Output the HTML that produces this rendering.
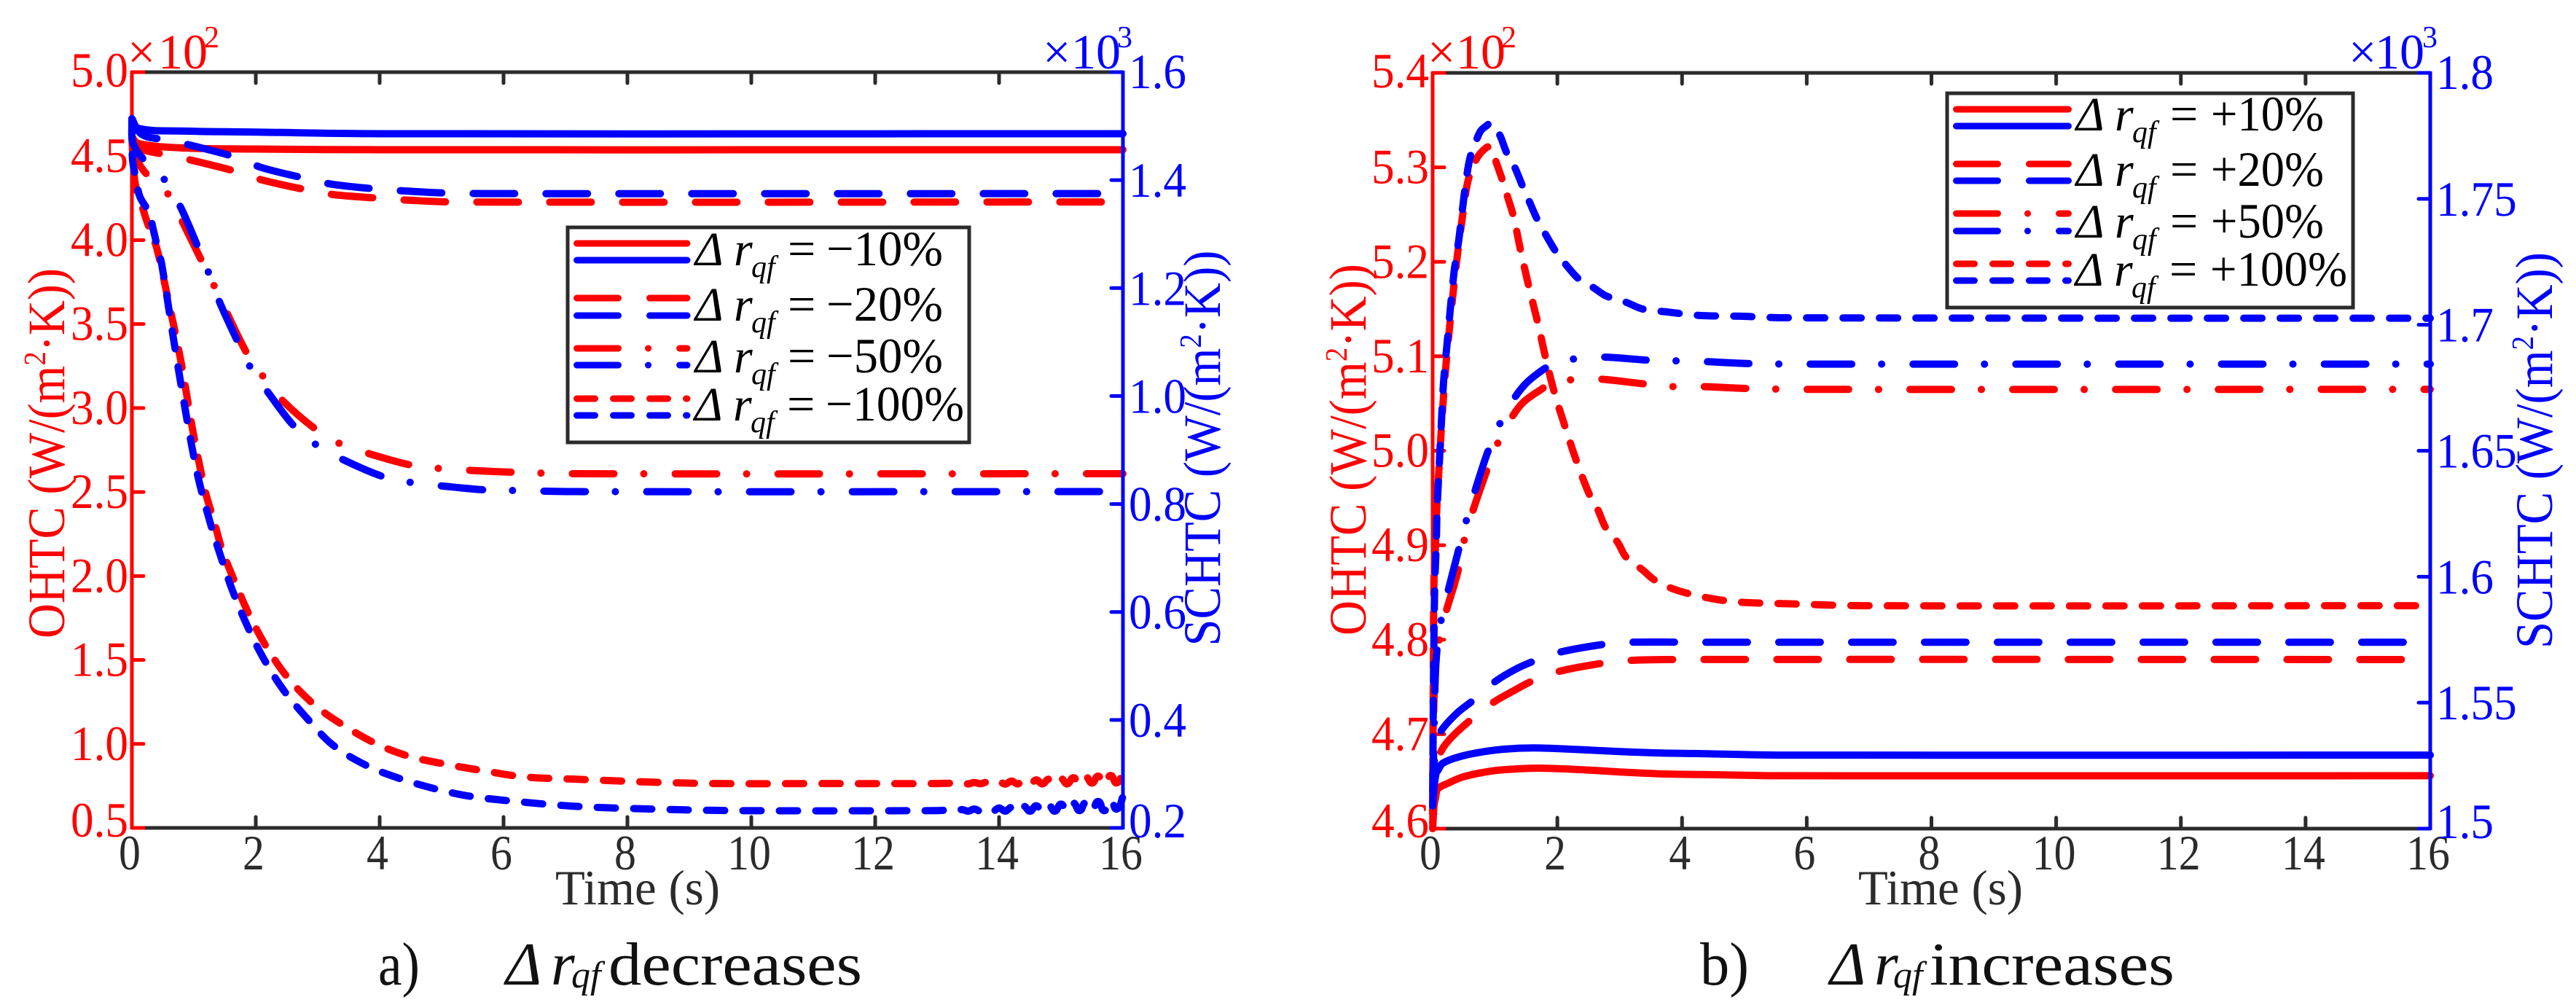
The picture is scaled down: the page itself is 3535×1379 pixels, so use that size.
<!DOCTYPE html>
<html lang="en">
<head>
<meta charset="utf-8">
<title>OHTC and SCHTC response to changes in r_qf</title>
<style>
html,body{margin:0;padding:0;background:#fff;}
svg{display:block;font-family:"Liberation Serif","Times New Roman",serif;}
text{white-space:pre;}
</style>
</head>
<body>
<svg id="chart" xmlns="http://www.w3.org/2000/svg" width="3535" height="1379" viewBox="0 0 3535 1379">
  <rect width="3535" height="1379" fill="#fff"/>

  <g id="a-left-layer"></g>
  <g id="b-left-layer"></g>
  <g id="a-series-layer"></g>
  <g id="b-series-layer"></g>
  <g id="a-right-layer"></g>
  <g id="b-right-layer"></g>

  <!-- axis exponents -->
  <text y="94" font-size="68" fill="#f00"><tspan x="175">×</tspan><tspan x="217">10</tspan><tspan x="280" y="65" font-size="42">2</tspan></text>
  <text y="94" font-size="68" fill="#00f"><tspan x="1431">×</tspan><tspan x="1470">10</tspan><tspan x="1533" y="65" font-size="42">3</tspan></text>
  <text y="94" font-size="68" fill="#f00"><tspan x="1959">×</tspan><tspan x="1998">10</tspan><tspan x="2060" y="65" font-size="42">2</tspan></text>
  <text y="94" font-size="68" fill="#00f"><tspan x="3223">×</tspan><tspan x="3259">10</tspan><tspan x="3324" y="65" font-size="42">3</tspan></text>

  <!-- axis titles -->
  <text transform="translate(88,622) rotate(-90)" text-anchor="middle" font-size="72" fill="#f00" textLength="508" lengthAdjust="spacingAndGlyphs">OHTC (W/(m<tspan dy="-26" font-size="42">2</tspan><tspan dy="26">·K))</tspan></text>
  <text transform="translate(1674,615) rotate(-90)" text-anchor="middle" font-size="72" fill="#00f" textLength="543" lengthAdjust="spacingAndGlyphs">SCHTC (W/(m<tspan dy="-26" font-size="42">2</tspan><tspan dy="26">·K))</tspan></text>
  <text transform="translate(1874,617) rotate(-90)" text-anchor="middle" font-size="72" fill="#f00" textLength="510" lengthAdjust="spacingAndGlyphs">OHTC (W/(m<tspan dy="-26" font-size="42">2</tspan><tspan dy="26">·K))</tspan></text>
  <text transform="translate(3502,618) rotate(-90)" text-anchor="middle" font-size="72" fill="#00f" textLength="544" lengthAdjust="spacingAndGlyphs">SCHTC (W/(m<tspan dy="-26" font-size="42">2</tspan><tspan dy="26">·K))</tspan></text>

  <text x="762" y="1241" font-size="68" fill="#2b2b2b" textLength="226" lengthAdjust="spacingAndGlyphs">Time (s)</text>
  <text x="2550" y="1241" font-size="68" fill="#2b2b2b" textLength="226" lengthAdjust="spacingAndGlyphs">Time (s)</text>

  <!-- captions -->
  <g fill="#111">
    <text x="519" y="1351" font-size="84" textLength="57" lengthAdjust="spacingAndGlyphs">a)</text>
    <text x="694" y="1351" font-size="84" font-style="italic">Δ</text>
    <text x="756" y="1351" font-size="84" font-style="italic">r</text>
    <text x="784" y="1355" font-size="52" font-style="italic">qf</text>
    <text x="835" y="1351" font-size="84" textLength="348" lengthAdjust="spacingAndGlyphs">decreases</text>
  </g>
  <g fill="#111">
    <text x="2333" y="1351" font-size="84" textLength="67" lengthAdjust="spacingAndGlyphs">b)</text>
    <text x="2511" y="1351" font-size="84" font-style="italic">Δ</text>
    <text x="2572" y="1351" font-size="84" font-style="italic">r</text>
    <text x="2598" y="1355" font-size="52" font-style="italic">qf</text>
    <text x="2648" y="1351" font-size="84" textLength="336" lengthAdjust="spacingAndGlyphs">increases</text>
  </g>

  <!-- legend a -->
  <g font-size="66" fill="#000">
    <rect x="779" y="312" width="551" height="295" fill="#fff" stroke="#2b2b2b" stroke-width="5"/>
    <g fill="none" stroke-width="9" stroke-linecap="round">
      <line x1="791.5" x2="943" y1="334" y2="334" stroke="#f00"/>
      <line x1="791.5" x2="943" y1="357" y2="357" stroke="#00f"/>
      <line x1="791.5" x2="943" y1="409" y2="409" stroke="#f00" stroke-dasharray="57 43"/>
      <line x1="791.5" x2="943" y1="433" y2="433" stroke="#00f" stroke-dasharray="57 43"/>
      <line x1="791.5" x2="943" y1="478" y2="478" stroke="#f00" stroke-dasharray="57 41 0.1 43"/>
      <line x1="791.5" x2="943" y1="501" y2="501" stroke="#00f" stroke-dasharray="57 41 0.1 43"/>
      <line x1="791.5" x2="943" y1="547" y2="547" stroke="#f00" stroke-dasharray="25 25"/>
      <line x1="791.5" x2="943" y1="570" y2="570" stroke="#00f" stroke-dasharray="25 25"/>
    </g>
    <g>
      <text x="954" y="364" font-style="italic">Δ</text><text x="1007" y="364" font-style="italic">r</text><text x="1031" y="380" font-size="42" font-style="italic">qf</text><text x="1081" y="364" font-size="68">=</text><text x="1134" y="364" font-size="68" textLength="160" lengthAdjust="spacingAndGlyphs">−10%</text>
    </g>
    <g>
      <text x="954" y="440" font-style="italic">Δ</text><text x="1007" y="440" font-style="italic">r</text><text x="1031" y="456" font-size="42" font-style="italic">qf</text><text x="1081" y="440" font-size="68">=</text><text x="1134" y="440" font-size="68" textLength="160" lengthAdjust="spacingAndGlyphs">−20%</text>
    </g>
    <g>
      <text x="954" y="511" font-style="italic">Δ</text><text x="1007" y="511" font-style="italic">r</text><text x="1031" y="527" font-size="42" font-style="italic">qf</text><text x="1081" y="511" font-size="68">=</text><text x="1134" y="511" font-size="68" textLength="160" lengthAdjust="spacingAndGlyphs">−50%</text>
    </g>
    <g>
      <text x="953" y="577" font-style="italic">Δ</text><text x="1006" y="577" font-style="italic">r</text><text x="1030" y="593" font-size="42" font-style="italic">qf</text><text x="1080" y="577" font-size="68">=</text><text x="1133" y="577" font-size="68" textLength="190" lengthAdjust="spacingAndGlyphs">−100%</text>
    </g>
  </g>

  <!-- legend b -->
  <g font-size="66" fill="#000">
    <rect x="2672" y="128" width="557" height="294" fill="#fff" stroke="#2b2b2b" stroke-width="5"/>
    <g fill="none" stroke-width="9" stroke-linecap="round">
      <line x1="2684.5" x2="2838.5" y1="150" y2="150" stroke="#f00"/>
      <line x1="2684.5" x2="2838.5" y1="173" y2="173" stroke="#00f"/>
      <line x1="2684.5" x2="2838.5" y1="225" y2="225" stroke="#f00" stroke-dasharray="57 43"/>
      <line x1="2684.5" x2="2838.5" y1="248" y2="248" stroke="#00f" stroke-dasharray="57 43"/>
      <line x1="2684.5" x2="2838.5" y1="293" y2="293" stroke="#f00" stroke-dasharray="57 41 0.1 43"/>
      <line x1="2684.5" x2="2838.5" y1="317" y2="317" stroke="#00f" stroke-dasharray="57 41 0.1 43"/>
      <line x1="2684.5" x2="2838.5" y1="362" y2="362" stroke="#f00" stroke-dasharray="25 25"/>
      <line x1="2684.5" x2="2838.5" y1="385" y2="385" stroke="#00f" stroke-dasharray="25 25"/>
    </g>
    <g>
      <text x="2849" y="179" font-style="italic">Δ</text><text x="2902" y="179" font-style="italic">r</text><text x="2926" y="195" font-size="42" font-style="italic">qf</text><text x="2978" y="179" font-size="68">=</text><text x="3034" y="179" font-size="68" textLength="155" lengthAdjust="spacingAndGlyphs">+10%</text>
    </g>
    <g>
      <text x="2849" y="255" font-style="italic">Δ</text><text x="2902" y="255" font-style="italic">r</text><text x="2926" y="271" font-size="42" font-style="italic">qf</text><text x="2978" y="255" font-size="68">=</text><text x="3034" y="255" font-size="68" textLength="155" lengthAdjust="spacingAndGlyphs">+20%</text>
    </g>
    <g>
      <text x="2849" y="326" font-style="italic">Δ</text><text x="2902" y="326" font-style="italic">r</text><text x="2926" y="342" font-size="42" font-style="italic">qf</text><text x="2978" y="326" font-size="68">=</text><text x="3034" y="326" font-size="68" textLength="155" lengthAdjust="spacingAndGlyphs">+50%</text>
    </g>
    <g>
      <text x="2848" y="392" font-style="italic">Δ</text><text x="2901" y="392" font-style="italic">r</text><text x="2925" y="408" font-size="42" font-style="italic">qf</text><text x="2977" y="392" font-size="68">=</text><text x="3033" y="392" font-size="68" textLength="188" lengthAdjust="spacingAndGlyphs">+100%</text>
    </g>
  </g>
</svg>

<script>
// ---- tick labels ----
const xTickValues = [0, 2, 4, 6, 8, 10, 12, 14, 16];
const aLeftTicks = [5.0, 4.5, 4.0, 3.5, 3.0, 2.5, 2.0, 1.5, 1.0, 0.5];
const aRightTicks = [1.6, 1.4, 1.2, 1.0, 0.8, 0.6, 0.4, 0.2];
const bLeftTicks = [5.4, 5.3, 5.2, 5.1, 5.0, 4.9, 4.8, 4.7, 4.6];
const bRightTicks = [1.8, 1.75, 1.7, 1.65, 1.6, 1.55, 1.5];
const aLeftLabels = ['5.0', '4.5', '4.0', '3.5', '3.0', '2.5', '2.0', '1.5', '1.0', '0.5'];
const aRightLabels = ['1.6', '1.4', '1.2', '1.0', '0.8', '0.6', '0.4', '0.2'];
const bLeftLabels = ['5.4', '5.3', '5.2', '5.1', '5.0', '4.9', '4.8', '4.7', '4.6'];
const bRightLabels = ['1.8', '1.75', '1.7', '1.65', '1.6', '1.55', '1.5'];

// ---- shared end-of-run sample times (numerical ripple at the end of the -100% runs) ----
const tailTimes = [13.2,13.3,13.4,13.5,13.6,13.7,13.8,13.9,14.0,14.1,14.2,14.3,14.4,14.5,14.6,14.7,14.8,14.9,15.0,15.1,15.2,15.3,15.4,15.5,15.6,15.7,15.8,15.9,16.0];

// ---- panel a : OHTC (left axis, x10^2) ----
const aOhtc10T = [0, 0.1, 0.8, 2, 4, 16];
const aOhtc10V = [4.614, 4.575, 4.549, 4.542, 4.538, 4.538];
const aOhtc20T = [0, 0.1, 0.6, 0.97, 1.72, 2.1, 2.85, 3.25, 4, 4.45, 5.2, 16];
const aOhtc20V = [4.605, 4.549, 4.505, 4.475, 4.405, 4.358, 4.297, 4.271, 4.249, 4.238, 4.227, 4.227];
const aOhtc50T = [0, 0.1, 0.28, 0.62, 0.82, 1.15, 1.35, 1.87, 2.15, 2.45, 2.97, 3.37, 3.85, 4.5, 5, 5.4, 6.2, 7.2, 16];
const aOhtc50V = [4.605, 4.466, 4.375, 4.258, 4.106, 3.859, 3.711, 3.316, 3.173, 3.038, 2.873, 2.786, 2.726, 2.661, 2.639, 2.630, 2.617, 2.609, 2.609];
const aOhtc100T = [0, 0.05, 0.19, 0.28, 0.40, 0.54, 0.79, 0.99, 1.19, 1.32, 1.46, 1.72, 1.92, 2.19, 2.52, 2.92, 3.32, 3.91, 4.45, 5.04, 5.71, 6.36, 7.16, 8.36, 9.42, 11.1, 13];
const aOhtc100V = [4.605, 4.345, 4.171, 4.071, 3.954, 3.724, 3.281, 2.852, 2.496, 2.335, 2.153, 1.914, 1.749, 1.567, 1.393, 1.241, 1.133, 1.007, 0.929, 0.881, 0.838, 0.803, 0.790, 0.773, 0.764, 0.764, 0.764];
const aOhtc100Tail = [0.766,0.762,0.768,0.762,0.770,0.763,0.772,0.762,0.775,0.761,0.779,0.762,0.782,0.760,0.786,0.762,0.790,0.763,0.794,0.762,0.799,0.765,0.804,0.767,0.808,0.762,0.812,0.768,0.835];

// ---- panel a : SCHTC (right axis, x10^3) ----
const aSchtc10T = [0, 0.1, 0.8, 2, 4, 16];
const aSchtc10V = [1.514, 1.496, 1.491, 1.489, 1.486, 1.486];
const aSchtc20T = [0, 0.17, 0.56, 0.97, 1.72, 2.1, 2.85, 3.25, 4, 4.4, 5.1, 6, 16];
const aSchtc20V = [1.511, 1.484, 1.4744, 1.464, 1.441, 1.423, 1.402, 1.392, 1.383, 1.380, 1.376, 1.375, 1.375];
const aSchtc50T = [0, 0.02, 0.22, 0.55, 0.79, 1.07, 1.25, 1.42, 1.72, 1.92, 2.21, 2.62, 3.01, 3.45, 4.05, 4.5, 5.04, 5.71, 6.16, 7.16, 16];
const aSchtc50V = [1.511, 1.468, 1.434, 1.3975, 1.349, 1.275, 1.225, 1.173, 1.098, 1.052, 1.005, 0.944, 0.907, 0.880, 0.851, 0.840, 0.833, 0.826, 0.825, 0.823, 0.823];
const aSchtc100T = [0, 0.01, 0.07, 0.13, 0.28, 0.34, 0.42, 0.48, 0.68, 0.89, 1.07, 1.28, 1.42, 1.62, 1.86, 2.12, 2.45, 2.85, 3.25, 3.78, 4.31, 4.91, 5.44, 6.11, 7.16, 8.36, 9.82, 13];
const aSchtc100V = [1.511, 1.439, 1.400, 1.369, 1.339, 1.311, 1.272, 1.245, 1.100, 0.956, 0.849, 0.759, 0.708, 0.641, 0.575, 0.515, 0.455, 0.400, 0.353, 0.316, 0.292, 0.272, 0.259, 0.250, 0.240, 0.235, 0.232, 0.232];
const aSchtc100Tail = [0.233,0.231,0.234,0.231,0.235,0.231,0.236,0.231,0.237,0.231,0.238,0.230,0.240,0.231,0.241,0.231,0.242,0.231,0.244,0.232,0.246,0.232,0.247,0.233,0.249,0.232,0.251,0.235,0.258];

// ---- panel b : OHTC (left axis, x10^2) ----
const bOhtc10T = [0, 0.023, 0.047, 0.082, 0.245, 0.5, 0.946, 1.3, 1.717, 2.5, 3.0, 3.668, 4.6, 5.607, 16];
const bOhtc10V = [4.6, 4.625, 4.633, 4.642, 4.648, 4.655, 4.661, 4.663, 4.664, 4.662, 4.660, 4.658, 4.657, 4.656, 4.656];
const bOhtc20T = [0, 0.012, 0.035, 0.129, 0.28, 0.607, 0.958, 1.273, 1.589, 1.998, 2.71, 3.143, 3.9, 16];
const bOhtc20V = [4.6, 4.637, 4.660, 4.681, 4.695, 4.715, 4.733, 4.745, 4.756, 4.766, 4.775, 4.778, 4.779, 4.779];
const bOhtc50T = [0, 0.012, 0.035, 0.082, 0.129, 0.199, 0.397, 0.491, 0.619, 0.841, 1.016, 1.238, 1.449, 1.741, 1.974, 2.185, 2.64, 3.364, 3.832, 4.287, 5.012, 6.005, 16];
const bOhtc50V = [4.6, 4.706, 4.760, 4.791, 4.806, 4.826, 4.870, 4.901, 4.931, 4.974, 5.004, 5.032, 5.051, 5.065, 5.075, 5.075, 5.076, 5.071, 5.068, 5.068, 5.066, 5.065, 5.065];
const bOhtc100T = [0, 0.012, 0.023, 0.047, 0.058, 0.093, 0.129, 0.164, 0.222, 0.339, 0.397, 0.491, 0.572, 0.713, 0.864, 0.935, 1.016, 1.121, 1.215, 1.297, 1.414, 1.542, 1.706, 1.799, 1.951, 2.126, 2.313, 2.512, 2.64, 2.78, 2.967, 3.107, 3.364, 3.563, 3.89, 4.357, 4.883, 5.736, 6.916, 16];
const bOhtc100V = [4.6, 4.783, 4.868, 4.901, 4.927, 4.971, 5.012, 5.048, 5.097, 5.174, 5.207, 5.254, 5.287, 5.310, 5.321, 5.321, 5.306, 5.286, 5.266, 5.248, 5.211, 5.174, 5.130, 5.102, 5.062, 5.025, 4.988, 4.954, 4.939, 4.918, 4.903, 4.887, 4.874, 4.863, 4.853, 4.845, 4.840, 4.838, 4.836, 4.836];

// ---- panel b : SCHTC (right axis, x10^3) ----
const bSchtc10T = [0, 0.023, 0.058, 0.082, 0.164, 0.5, 0.946, 1.3, 1.717, 2.5, 3.0, 3.668, 4.252, 5.607, 16];
const bSchtc10V = [1.509, 1.5165, 1.5223, 1.523, 1.526, 1.529, 1.531, 1.5318, 1.532, 1.5312, 1.5306, 1.530, 1.5298, 1.5292, 1.5292];
const bSchtc20T = [0, 0.023, 0.058, 0.14, 0.397, 0.654, 0.981, 1.308, 1.624, 2.033, 2.757, 3.178, 4.135, 16];
const bSchtc20V = [1.509, 1.525, 1.534, 1.539, 1.546, 1.551, 1.558, 1.563, 1.5665, 1.570, 1.5732, 1.574, 1.574, 1.574];
const bSchtc50T = [0, 0.023, 0.047, 0.093, 0.129, 0.234, 0.409, 0.526, 0.666, 0.876, 1.063, 1.297, 1.507, 1.776, 1.974, 2.22, 2.71, 3.435, 3.89, 4.357, 5.082, 6.0, 16];
const bSchtc50V = [1.509, 1.540, 1.563, 1.577, 1.582, 1.593, 1.610, 1.621, 1.633, 1.649, 1.660, 1.6704, 1.677, 1.6823, 1.6851, 1.6863, 1.6872, 1.686, 1.6857, 1.6854, 1.6846, 1.6844, 1.6844];
const bSchtc100T = [0, 0.012, 0.023, 0.035, 0.058, 0.07, 0.105, 0.14, 0.164, 0.187, 0.222, 0.339, 0.421, 0.479, 0.549, 0.607, 0.689, 0.771, 0.864, 0.935, 1.063, 1.192, 1.308, 1.449, 1.542, 1.682, 1.799, 1.974, 2.126, 2.348, 2.582, 2.78, 3.107, 3.364, 3.762, 4.287, 4.942, 5.607, 16];
const bSchtc100V = [1.509, 1.554, 1.580, 1.598, 1.613, 1.626, 1.644, 1.661, 1.673, 1.681, 1.690, 1.720, 1.734, 1.746, 1.7595, 1.767, 1.7725, 1.777, 1.779, 1.780, 1.776, 1.768, 1.763, 1.7546, 1.7494, 1.7416, 1.7364, 1.7291, 1.7242, 1.7181, 1.7147, 1.7115, 1.7089, 1.7063, 1.7051, 1.7037, 1.7034, 1.7028, 1.7026];

// ---- drawing ----
const SVGNS = 'http://www.w3.org/2000/svg';
const RED = '#f00', BLUE = '#00f', DARK = '#2b2b2b';
const DASH20 = [57, 43], DASH50 = [57, 41, 0.1, 43], DASH100 = [25, 25];

function mk(tag, attrs, parent) {
  const el = document.createElementNS(SVGNS, tag);
  for (const k in attrs) el.setAttribute(k, attrs[k]);
  parent.appendChild(el);
  return el;
}
function scale(d0, d1, p0, p1) {
  return v => p0 + (v - d0) / (d1 - d0) * (p1 - p0);
}

function drawFrame(key, box, xs, yL, yR, leftTicks, leftLabels, rightTicks, rightLabels) {
  const lLayer = document.getElementById(key + '-left-layer');
  const rLayer = document.getElementById(key + '-right-layer');
  const top = mk('line', {x1: box.l, x2: box.r, y1: box.t, y2: box.t, stroke: DARK, 'stroke-width': 5}, lLayer);
  
  
  const bottom = mk('line', {x1: box.l, x2: box.r, y1: box.b, y2: box.b, stroke: DARK, 'stroke-width': 5}, lLayer);
  
  
  const left = mk('line', {x1: box.l, x2: box.l, y1: box.t - 2, y2: box.b + 2, stroke: RED, 'stroke-width': 5}, lLayer);
  
  
  const right = mk('line', {x1: box.r, x2: box.r, y1: box.t - 2, y2: box.b + 2, stroke: BLUE, 'stroke-width': 5}, rLayer);
  
  

  xTickValues.forEach((t, i) => {
    const x = xs(t);
    if (i > 0 && i < xTickValues.length - 1) {
      const t1 = mk('line', {x1: x, x2: x, y1: box.t, y2: box.t + 15, stroke: DARK, 'stroke-width': 5, 'stroke-linecap': 'round'}, lLayer);
      
      
      const t2 = mk('line', {x1: x, x2: x, y1: box.b, y2: box.b - 15, stroke: DARK, 'stroke-width': 5, 'stroke-linecap': 'round'}, lLayer);
      
      
    }
    const lab = mk('text', {x: x - 3, y: 1193, 'text-anchor': 'middle', 'font-size': 68, fill: DARK}, lLayer);
    lab.textContent = String(t);
    
    
    lab.setAttribute('textLength', (lab.getComputedTextLength() * 0.88).toFixed(1));
    lab.setAttribute('lengthAdjust', 'spacingAndGlyphs');
  });

  leftTicks.forEach((v, i) => {
    const y = yL(v);
    const tk = mk('line', {x1: box.l, x2: box.l + 16, y1: y, y2: y, stroke: RED, 'stroke-width': 5, 'stroke-linecap': 'round'}, lLayer);
    
    
    const dy = i === leftTicks.length - 1 ? 12 : (i === 0 ? 20 : 22);
    const lab = mk('text', {x: box.l - 5, y: y + dy, 'text-anchor': 'end', 'font-size': 68, fill: RED}, lLayer);
    lab.textContent = leftLabels[i];
    
    
    lab.setAttribute('textLength', (lab.getComputedTextLength() * 0.93).toFixed(1));
    lab.setAttribute('lengthAdjust', 'spacingAndGlyphs');
  });

  rightTicks.forEach((v, i) => {
    const y = yR(v);
    const tk = mk('line', {x1: box.r, x2: box.r - 16, y1: y, y2: y, stroke: BLUE, 'stroke-width': 5, 'stroke-linecap': 'round'}, rLayer);
    
    
    const dy = i === rightTicks.length - 1 ? 13 : (i === 0 ? 22 : 23);
    const lab = mk('text', {x: box.r + 8, y: y + dy, 'font-size': 68, fill: BLUE}, rLayer);
    lab.textContent = rightLabels[i];
    
    
    lab.setAttribute('textLength', (lab.getComputedTextLength() * 0.93).toFixed(1));
    lab.setAttribute('lengthAdjust', 'spacingAndGlyphs');
  });
}

// Smooth curve through the data points: handle direction follows the neighbours,
// handle length is a third of the adjoining chord (so no overshoot on uneven spacing).
function smoothPath(pts) {
  const n = pts.length;
  const dirs = pts.map((p, i) => {
    const a = pts[Math.max(i - 1, 0)], b = pts[Math.min(i + 1, n - 1)];
    const dx = b[0] - a[0], dy = b[1] - a[1], m = Math.hypot(dx, dy) || 1;
    return [dx / m, dy / m];
  });
  let d = 'M' + pts[0][0].toFixed(2) + ' ' + pts[0][1].toFixed(2);
  for (let i = 0; i < n - 1; i++) {
    const p = pts[i], q = pts[i + 1];
    const h = Math.hypot(q[0] - p[0], q[1] - p[1]) / 3;
    d += 'C' + (p[0] + dirs[i][0] * h).toFixed(2) + ' ' + (p[1] + dirs[i][1] * h).toFixed(2) +
         ' ' + (q[0] - dirs[i + 1][0] * h).toFixed(2) + ' ' + (q[1] - dirs[i + 1][1] * h).toFixed(2) +
         ' ' + q[0].toFixed(2) + ' ' + q[1].toFixed(2);
  }
  return d;
}

// dashAnchor: time at which one dash starts, so that dash phase on the plateau is fixed.
function drawSeries(key, name, times, values, xs, ys, color, dash, dashAnchor) {
  const layer = document.getElementById(key + '-series-layer');
  const pts = times.map((t, i) => [xs(t), ys(values[i])]);
  const p = mk('path', {d: smoothPath(pts), fill: 'none', stroke: color, 'stroke-width': 10, 'stroke-linecap': 'round', 'stroke-linejoin': 'round'}, layer);
  if (dash) {
    const period = dash.reduce((a, b) => a + b, 0);
    const target = xs(dashAnchor);
    let lo = 0, hi = p.getTotalLength();
    for (let k = 0; k < 40; k++) {
      const mid = (lo + hi) / 2;
      if (p.getPointAtLength(mid).x < target) lo = mid; else hi = mid;
    }
    p.setAttribute('stroke-dasharray', dash.join(' '));
    p.setAttribute('stroke-dashoffset', (period - (lo % period)).toFixed(2));
  }
  
  
}

// axis functions, panel a
const aBox = {l: 181, r: 1541, t: 99, b: 1136};
const aX = scale(0, 16, aBox.l, aBox.r);
const aYL = scale(5.0, 0.5, aBox.t, aBox.b);
const aYR = scale(1.6, 0.2, aBox.t, aBox.b);
// axis functions, panel b
const bBox = {l: 1966, r: 3335, t: 100, b: 1137};
const bX = scale(0, 16, bBox.l, bBox.r);
const bYL = scale(5.4, 4.6, bBox.t, bBox.b);
const bYR = scale(1.8, 1.5, bBox.t, bBox.b);

drawFrame('a', aBox, aX, aYL, aYR, aLeftTicks, aLeftLabels, aRightTicks, aRightLabels);
drawFrame('b', bBox, bX, bYL, bYR, bLeftTicks, bLeftLabels, bRightTicks, bRightLabels);

drawSeries('a', 'ohtc-minus-100', aOhtc100T.concat(tailTimes), aOhtc100V.concat(aOhtc100Tail), aX, aYL, RED, DASH100, 11.14);
drawSeries('a', 'ohtc-minus-50', aOhtc50T, aOhtc50V, aX, aYL, RED, DASH50, 13.75);
drawSeries('a', 'ohtc-minus-20', aOhtc20T, aOhtc20V, aX, aYL, RED, DASH20, 14.98);
drawSeries('a', 'ohtc-minus-10', aOhtc10T, aOhtc10V, aX, aYL, RED, null, 0);
drawSeries('a', 'schtc-minus-100', aSchtc100T.concat(tailTimes), aSchtc100V.concat(aSchtc100Tail), aX, aYR, BLUE, DASH100, 11.04);
drawSeries('a', 'schtc-minus-50', aSchtc50T, aSchtc50V, aX, aYR, BLUE, DASH50, 13.29);
drawSeries('a', 'schtc-minus-20', aSchtc20T, aSchtc20V, aX, aYR, BLUE, DASH20, 14.92);
drawSeries('a', 'schtc-minus-10', aSchtc10T, aSchtc10V, aX, aYR, BLUE, null, 0);

drawSeries('b', 'ohtc-plus-100', bOhtc100T, bOhtc100V, bX, bYL, RED, DASH100, 15.47);
drawSeries('b', 'ohtc-plus-50', bOhtc50T, bOhtc50V, bX, bYL, RED, DASH50, 14.25);
drawSeries('b', 'ohtc-plus-20', bOhtc20T, bOhtc20V, bX, bYL, RED, DASH20, 14.87);
drawSeries('b', 'ohtc-plus-10', bOhtc10T, bOhtc10V, bX, bYL, RED, null, 0);
drawSeries('b', 'schtc-plus-100', bSchtc100T, bSchtc100V, bX, bYR, BLUE, DASH100, 14.76);
drawSeries('b', 'schtc-plus-50', bSchtc50T, bSchtc50V, bX, bYR, BLUE, DASH50, 14.30);
drawSeries('b', 'schtc-plus-20', bSchtc20T, bSchtc20V, bX, bYR, BLUE, DASH20, 14.90);
drawSeries('b', 'schtc-plus-10', bSchtc10T, bSchtc10V, bX, bYR, BLUE, null, 0);
</script>
</body>
</html>
